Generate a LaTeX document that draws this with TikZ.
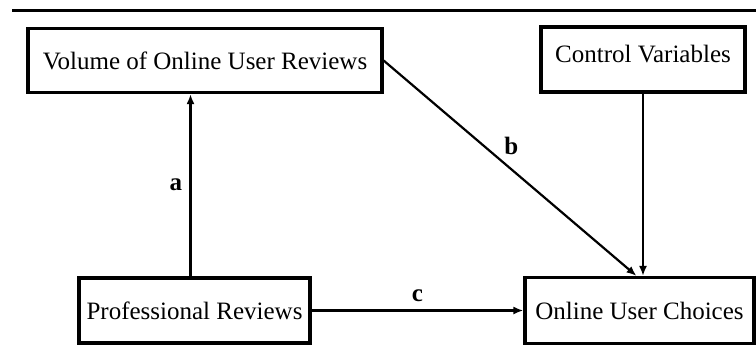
\documentclass[tikz,border=0pt]{standalone}
\usepackage{fontspec}
\setmainfont{Liberation Serif}
\usetikzlibrary{arrows.meta}

\begin{document}
\begin{tikzpicture}[x=1pt, y=-1pt,
  every node/.style={font=\fontsize{25}{30}\selectfont},
  var/.style={draw, line width=3.2pt, inner sep=0pt},
  link/.style={line width=2.2pt, -{Latex[length=10pt,width=8pt]}},
  lbl/.style={font=\fontsize{25}{30}\selectfont\bfseries}]
\useasboundingbox (0,0) rectangle (756,354);

\draw [line width=3pt] (12,10) -- (756,10);

\node (vol) at (205,60.5) [var, minimum width=354pt, minimum height=64pt] {Volume of Online User Reviews};
\node (ctrl) at (643,59.5) [var, minimum width=204pt, text height=35pt, text depth=30pt] {Control Variables};
\node (prof) at (194.5,310.5) [var, minimum width=231pt, minimum height=65pt] {Professional Reviews};
\node (choice) at (639.5,310.5) [var, minimum width=229pt, minimum height=66pt] {Online User Choices};

\draw [link] ([xshift=-4pt]prof.north) -- ([xshift=-4pt]prof.north |- vol.south) node[midway, left=4pt, lbl] {a};
\draw [link] (vol.east) -- ([xshift=-3pt]choice.north) node[pos=0.46, above right, lbl] {b};
\draw [link] (ctrl.south) -- (ctrl.south |- choice.north);
\draw [link] (prof.east) -- (choice.west) node[midway, above=4pt, lbl] {c};
\end{tikzpicture}
\end{document}
